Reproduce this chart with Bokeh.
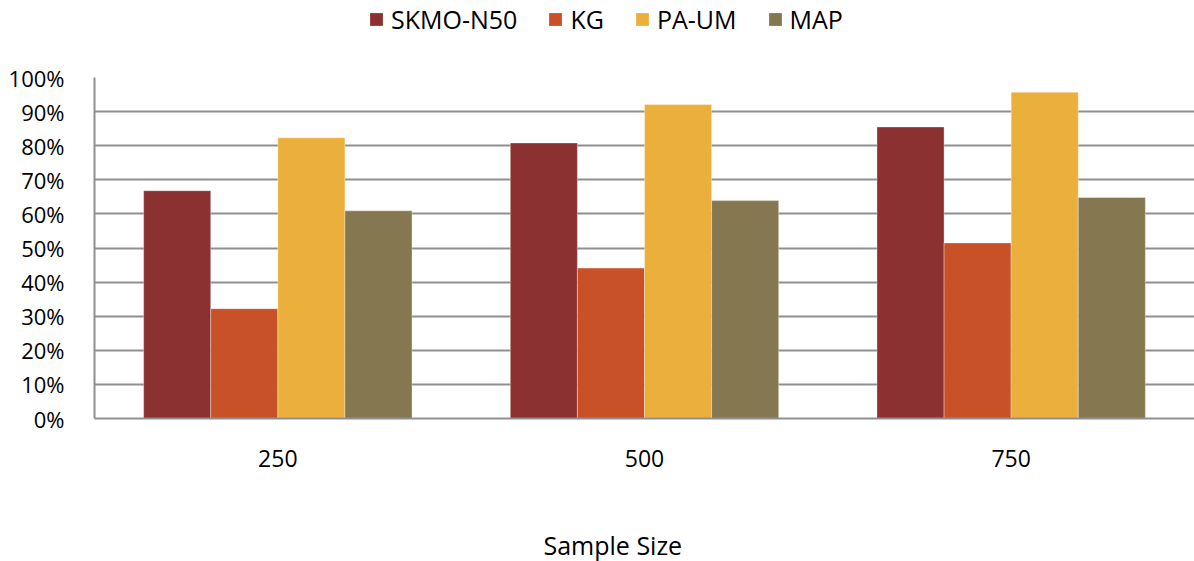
from bokeh.plotting import figure
from bokeh.models import ColumnDataSource, Legend, LegendItem, NumeralTickFormatter, FixedTicker, Range1d, Label
from bokeh.layouts import column
from bokeh.transform import dodge
from bokeh.embed import file_html
from bokeh.resources import INLINE

sample_sizes = ["250", "500", "750"]
skmo_n50 = [0.668, 0.808, 0.855]
kg = [0.322, 0.441, 0.515]
pa_um = [0.823, 0.921, 0.957]
map_vals = [0.609, 0.639, 0.648]
series_names = ["SKMO-N50", "KG", "PA-UM", "MAP"]
series_colors = ["#8B3131", "#C95128", "#EBB03B", "#857850"]
y_ticks = [0.0, 0.1, 0.2, 0.3, 0.4, 0.5, 0.6, 0.7, 0.8, 0.9, 1.0]
x_title = "Sample Size"

FONT = "Open Sans"
W = 1194
LEG_H = 40
BOT_H = 60
src = ColumnDataSource(dict(x=sample_sizes, s0=skmo_n50, s1=kg, s2=pa_um, s3=map_vals))


def strip(h):
    f = figure(width=W, height=h, x_range=Range1d(0, 1), y_range=Range1d(0, 1),
               output_backend="svg", toolbar_location=None,
               x_axis_location=None, y_axis_location=None,
               min_border_left=0, min_border_right=0, min_border_top=0, min_border_bottom=0)
    f.outline_line_color = None
    f.xgrid.grid_line_color = None
    f.ygrid.grid_line_color = None
    return f


# legend strip
lf = strip(LEG_H)
items = []
for name, col in zip(series_names, series_colors):
    r = lf.vbar(x=[-5], top=[0], width=0.01, fill_color=col, line_color=None)
    items.append(LegendItem(label=name, renderers=[r]))
legend = Legend(items=items, orientation="horizontal", location=(274, 4),
                glyph_width=16, glyph_height=16, label_standoff=7, spacing=30,
                padding=0, margin=0, border_line_color=None, background_fill_alpha=0,
                label_text_font=FONT, label_text_font_size="25px", label_text_color="#000000")
lf.add_layout(legend, "center")

# main chart
p = figure(x_range=sample_sizes, y_range=Range1d(0, 1), width=W, height=561 - LEG_H - BOT_H,
           output_backend="svg", toolbar_location=None,
           min_border_left=94, min_border_right=0, min_border_top=77 - LEG_H,
           min_border_bottom=561 - LEG_H - BOT_H - (77 - LEG_H) - 341)
p.outline_line_color = None

bw = 0.183
offsets = [-1.5 * bw, -0.5 * bw, 0.5 * bw, 1.5 * bw]
for i, (name, col) in enumerate(zip(series_names, series_colors)):
    p.vbar(x=dodge("x", offsets[i], range=p.x_range), top="s%d" % i, width=bw, source=src,
           fill_color=col, line_color="white", line_alpha=0.35, line_width=1)

grid_col = "#8F8F8F"
p.xgrid.grid_line_color = None
p.ygrid.grid_line_color = grid_col
p.ygrid.grid_line_width = 2
p.ygrid.ticker = FixedTicker(ticks=y_ticks)
p.yaxis.ticker = FixedTicker(ticks=y_ticks)
p.yaxis.formatter = NumeralTickFormatter(format="0%")
p.yaxis.axis_line_color = grid_col
p.yaxis.axis_line_width = 2
p.yaxis.major_tick_line_color = None
p.yaxis.minor_tick_line_color = None
p.yaxis.major_label_standoff = 24
p.yaxis.major_label_text_font = FONT
p.yaxis.major_label_text_font_size = "22px"
p.yaxis.major_label_text_color = "#000000"

p.xaxis.axis_line_color = grid_col
p.xaxis.axis_line_width = 2
p.xaxis.major_tick_line_color = None
p.xaxis.minor_tick_line_color = None
p.xaxis.major_label_standoff = 25
p.xaxis.major_label_text_font = FONT
p.xaxis.major_label_text_font_size = "23px"
p.xaxis.major_label_text_color = "#000000"

# x-axis title strip
bf = strip(BOT_H)
bf.add_layout(Label(x=449, y=17, x_units="screen", y_units="screen", text=x_title,
                    text_font=FONT, text_font_size="25px", text_color="#000000",
                    text_align="left", text_baseline="middle"))

layout = column(lf, p, bf, spacing=0)
open("out.html", "w").write(file_html(layout, INLINE))
